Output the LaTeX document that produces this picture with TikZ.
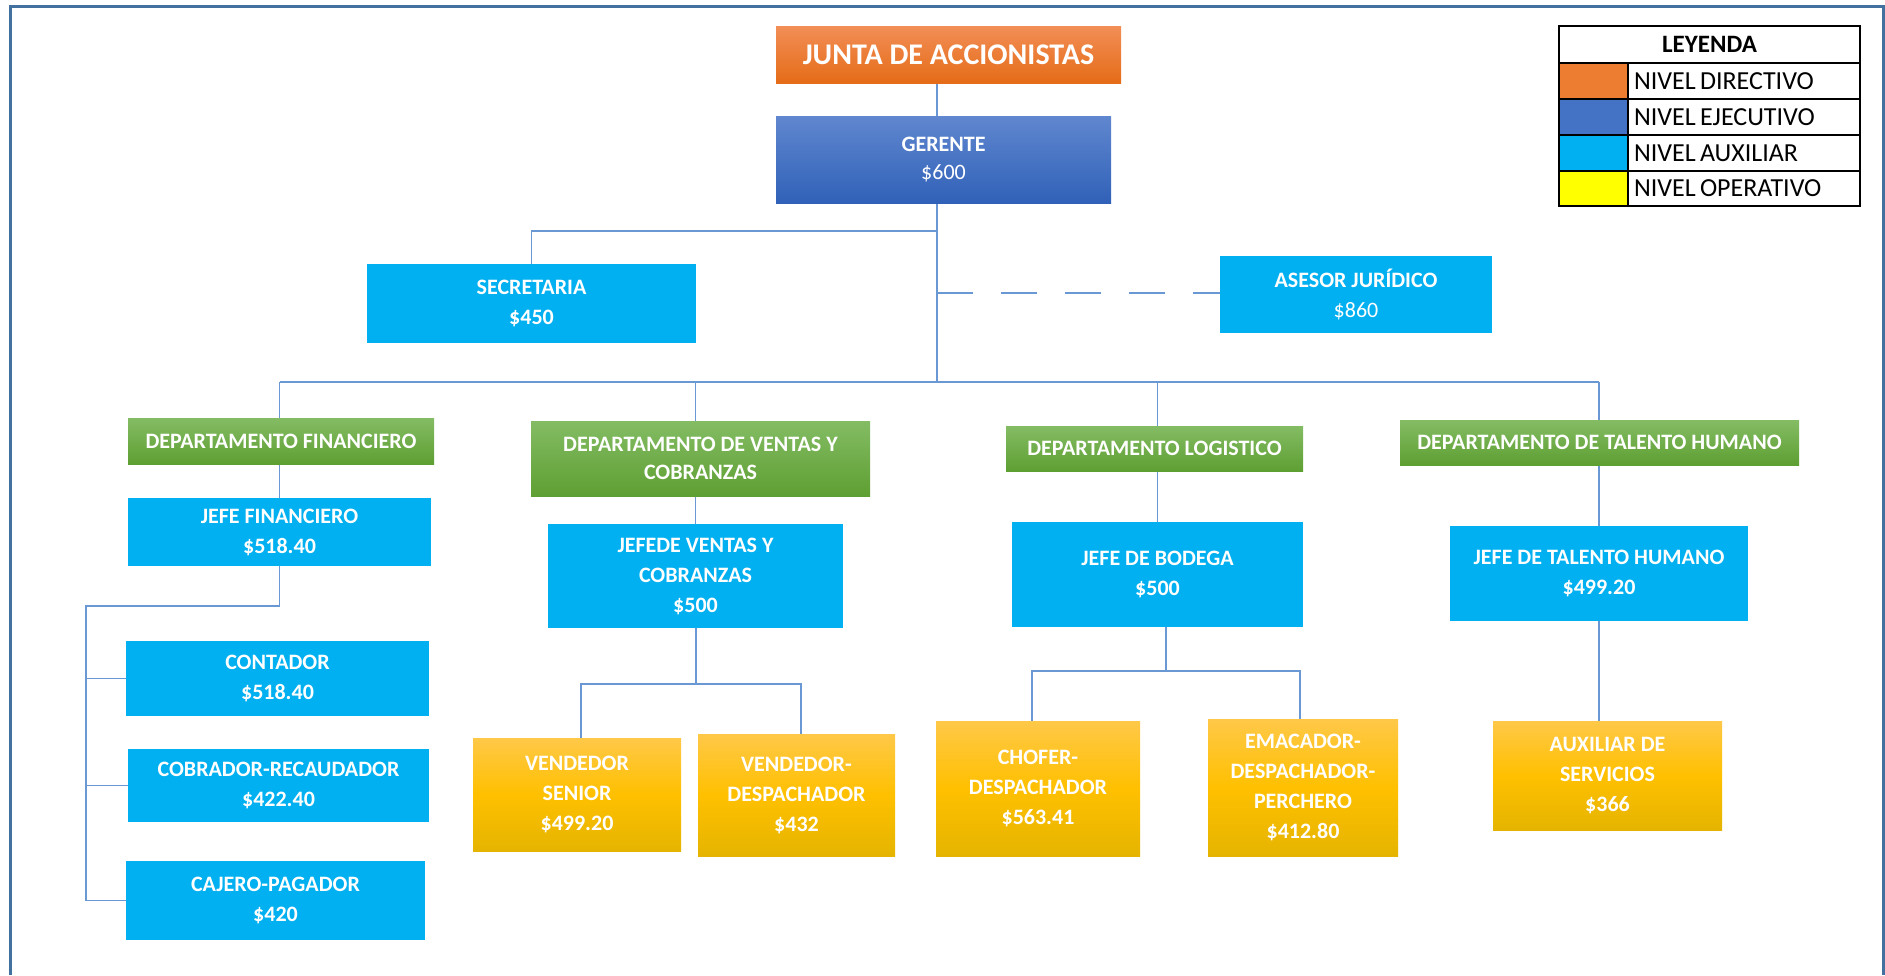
\documentclass[tikz,border=0pt]{standalone}
\usepackage{fontspec}
\setmainfont{Carlito}
\usetikzlibrary{backgrounds}
\definecolor{juntatop}{RGB}{242,142,86}
\definecolor{juntabot}{RGB}{229,108,24}
\definecolor{gertop}{RGB}{96,135,207}
\definecolor{gerbot}{RGB}{48,97,184}
\definecolor{auxblue}{RGB}{0,176,240}
\definecolor{greentop}{RGB}{132,188,100}
\definecolor{greenbot}{RGB}{94,159,50}
\definecolor{optop}{RGB}{255,200,72}
\definecolor{opmid}{RGB}{255,192,0}
\definecolor{opbot}{RGB}{229,180,0}
\definecolor{linecol}{RGB}{105,152,212}
\definecolor{bordercol}{RGB}{66,113,160}
\definecolor{legorange}{RGB}{237,125,49}
\definecolor{legblue}{RGB}{68,114,196}
\definecolor{legyellow}{RGB}{255,255,0}
\begin{document}
\begin{tikzpicture}[x=1pt,y=-1pt,
  box/.style={rectangle, inner sep=0pt, align=center, text=white,
    font=\fontsize{22}{30}\selectfont\bfseries},
  juntabox/.style={box, top color=juntatop, bottom color=juntabot,
    font=\fontsize{30}{36}\selectfont\bfseries},
  gerbox/.style={box, top color=gertop, bottom color=gerbot,
    font=\fontsize{22}{28}\selectfont\bfseries},
  auxbox/.style={box, fill=auxblue},
  depbox/.style={box, top color=greentop, bottom color=greenbot,
    font=\fontsize{22}{28}\selectfont\bfseries},
  opbox/.style={box, top color=optop, bottom color=opbot, middle color=opmid},
  conn/.style={draw=linecol, line width=1.5pt},
  legcell/.style={rectangle, draw=black, line width=2pt, inner sep=0pt},
  leglabel/.style={legcell, text width=220pt, inner xsep=6pt, align=left,
    font=\fontsize{26}{30}\selectfont},
]
\useasboundingbox (0,0) rectangle (1885,975);
\draw[line width=3pt, draw=bordercol] (10,975) -- (10,6) -- (1883,6) -- (1883,975);

% top
\node[juntabox, minimum width=345pt, minimum height=57pt] (junta) at (948.5,54.5) {JUNTA DE ACCIONISTAS};
\node[gerbox, minimum width=335pt, minimum height=87pt] (gerente) at (943.5,159.5) {GERENTE\\{\mdseries \$600}};
\node[auxbox, minimum width=329pt, minimum height=79pt] (secretaria) at (531.5,303.5) {SECRETARIA\\\$450};
\node[auxbox, minimum width=272pt, minimum height=77pt] (asesor) at (1356,294.5) {ASESOR JURÍDICO\\{\mdseries \$860}};

% departments
\node[depbox, minimum width=306pt, minimum height=46pt] (depfin) at (281,441) {DEPARTAMENTO FINANCIERO};
\node[depbox, minimum width=339pt, minimum height=75pt] (depven) at (700.5,458.5) {DEPARTAMENTO DE VENTAS Y\\COBRANZAS};
\node[depbox, minimum width=297pt, minimum height=45pt] (deplog) at (1154.5,448.5) {DEPARTAMENTO LOGISTICO};
\node[depbox, minimum width=399pt, minimum height=45pt] (deptal) at (1599.5,442.5) {DEPARTAMENTO DE TALENTO HUMANO};

% chiefs
\node[auxbox, minimum width=303pt, minimum height=68pt] (jefefin) at (279.5,532) {JEFE FINANCIERO\\\$518.40};
\node[auxbox, minimum width=295pt, minimum height=104pt] (jefeven) at (695.5,576) {JEFEDE VENTAS Y\\COBRANZAS\\\$500};
\node[auxbox, minimum width=291pt, minimum height=105pt] (jefebod) at (1157.5,574.5) {JEFE DE BODEGA\\\$500};
\node[auxbox, minimum width=298pt, minimum height=95pt] (jefetal) at (1599,573.5) {JEFE DE TALENTO HUMANO\\\$499.20};

% financial staff
\node[auxbox, minimum width=303pt, minimum height=75pt] (contador) at (277.5,678.5) {CONTADOR\\\$518.40};
\node[auxbox, minimum width=301pt, minimum height=73pt] (cobrador) at (278.5,785.5) {COBRADOR-RECAUDADOR\\\$422.40};
\node[auxbox, minimum width=299pt, minimum height=79pt] (cajero) at (275.5,900.5) {CAJERO-PAGADOR\\\$420};

% operative
\node[opbox, minimum width=208pt, minimum height=113pt] (vsenior) at (577,794.5) {VENDEDOR\\SENIOR\\\$499.20};
\node[opbox, minimum width=197pt, minimum height=122pt] (vdesp) at (796.5,795) {VENDEDOR-\\DESPACHADOR\\\$432};
\node[opbox, minimum width=204pt, minimum height=135pt] (chofer) at (1038,788.5) {CHOFER-\\DESPACHADOR\\\$563.41};
\node[opbox, minimum width=190pt, minimum height=137pt] (emacador) at (1303,787.5) {EMACADOR-\\DESPACHADOR-\\PERCHERO\\\$412.80};
\node[opbox, minimum width=229pt, minimum height=109pt] (auxiliar) at (1607.5,775.5) {AUXILIAR DE\\SERVICIOS\\\$366};

% legend
\node[legcell, minimum width=301pt, minimum height=37pt, font=\fontsize{25}{28}\selectfont\bfseries] (leghead) at (1709.5,44.5) {LEYENDA};
\node[legcell, fill=legorange, minimum width=69pt, minimum height=36pt] (sw1) at (1593.5,81) {};
\node[legcell, fill=legblue, minimum width=69pt, minimum height=36pt] (sw2) at (1593.5,117) {};
\node[legcell, fill=auxblue, minimum width=69pt, minimum height=36pt] (sw3) at (1593.5,153) {};
\node[legcell, fill=legyellow, minimum width=69pt, minimum height=35pt] (sw4) at (1593.5,188.5) {};
\node[leglabel, minimum height=36pt] (lab1) at (1744,81) {NIVEL\,DIRECTIVO};
\node[leglabel, minimum height=36pt] (lab2) at (1744,117) {NIVEL\,EJECUTIVO};
\node[leglabel, minimum height=36pt] (lab3) at (1744,153) {NIVEL\,AUXILIAR};
\node[leglabel, minimum height=35pt] (lab4) at (1744,188.5) {NIVEL\,OPERATIVO};

% connectors
\coordinate (jsec) at (937,231);
\coordinate (jadv) at (937,293);
\coordinate (jbar) at (937,382);
\coordinate (f2) at (86,606);
\coordinate (v) at (696,684);
\coordinate (vs) at (581,684);
\coordinate (vd) at (801,684);
\coordinate (l) at (1166,671);
\coordinate (lc) at (1032,671);
\coordinate (le) at (1300,671);
\begin{scope}[on background layer]
\draw[conn] (junta.south -| jbar) -- (gerente.north -| jbar);
\draw[conn] (gerente.south -| jbar) -- (jbar);
\draw[conn] (jsec) -- (jsec -| secretaria.north) -- (secretaria.north);
\draw[conn, dash pattern=on 36pt off 28pt] (jadv) -- (asesor.west |- jadv);
\draw[conn] (jefefin.north |- jbar) -- (jefetal.north |- jbar);
\draw[conn] (jefefin.north |- jbar) -- (jefefin.north);
\draw[conn] (jefeven.north |- jbar) -- (jefeven.north);
\draw[conn] (jefebod.north |- jbar) -- (jefebod.north);
\draw[conn] (jefetal.north |- jbar) -- (jefetal.north);
\draw[conn] (jefefin.south) -- (jefefin.south |- f2) -- (f2) -- (f2 |- cajero.west) -- (cajero.west);
\draw[conn] (f2 |- contador.west) -- (contador.west);
\draw[conn] (f2 |- cobrador.west) -- (cobrador.west);
\draw[conn] (v |- jefeven.south) -- (v);
\draw[conn] (vs |- vsenior.north) -- (vs) -- (vd) -- (vd |- vdesp.north);
\draw[conn] (l |- jefebod.south) -- (l);
\draw[conn] (lc |- chofer.north) -- (lc) -- (le) -- (le |- emacador.north);
\draw[conn] (jefetal.south) -- (jefetal.south |- auxiliar.north);
\end{scope}
\end{tikzpicture}
\end{document}
